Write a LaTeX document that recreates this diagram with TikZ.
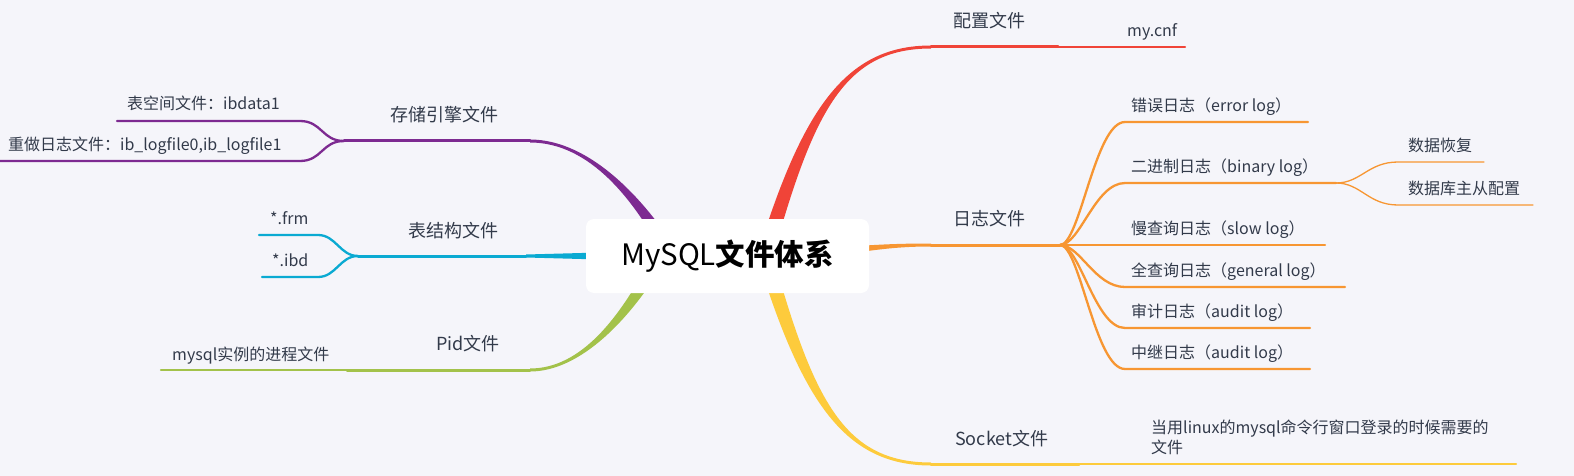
\documentclass[tikz,border=0pt]{standalone}
\usepackage{fontspec}
\setmainfont{Noto Sans CJK SC}
\usetikzlibrary{positioning}
\definecolor{bgc}{RGB}{245,245,250}
\definecolor{ink}{RGB}{50,58,74}
\definecolor{cred}{RGB}{240,68,56}
\definecolor{corange}{RGB}{247,150,50}
\definecolor{cyellow}{RGB}{253,203,60}
\definecolor{cgreen}{RGB}{163,194,74}
\definecolor{ccyan}{RGB}{10,170,210}
\definecolor{cpurple}{RGB}{125,42,145}

\begin{document}
\begin{tikzpicture}[line cap=round,line join=round,x=1pt,y=-1pt,
    trunk/.style={line width=3pt},
    twig/.style={line width=2.3pt},
    leaf/.style={inner sep=0pt,text=ink,font=\fontsize{16}{20}\selectfont,text height=12.5pt,text depth=3.5pt},
    topic/.style={inner sep=0pt,text=ink,font=\fontsize{18}{22}\selectfont,text height=14pt,text depth=4pt}]
	\fill[bgc] (0,0) rectangle (1574,476);
	\useasboundingbox (0,0) rectangle (1574,476);
	% tapered roots, they start under the central box
	\fill[cred] (757,256) .. controls (802,110) and (845,45.5) .. (931,45.5) -- (931,48.5) .. controls (845,48.5) and (814,110) .. (773,256) -- cycle;
	\fill[cyellow] (757,256) .. controls (802,402) and (845,465.5) .. (931,465.5) -- (931,462.5) .. controls (845,462.5) and (814,402) .. (773,256) -- cycle;
	\fill[corange] (800,250) .. controls (870,245) and (890,243.5) .. (931,243.5) -- (931,246.5) .. controls (890,246.5) and (870,251) .. (800,260) -- cycle;
	\fill[cpurple] (664,256) .. controls (634,200) and (590,142.5) .. (530,142.5) -- (530,139.5) .. controls (590,139.5) and (646,200) .. (680,256) -- cycle;
	\fill[cgreen] (652,256) .. controls (619,320) and (580,368.5) .. (530,368.5) -- (530,371.5) .. controls (580,371.5) and (631,320) .. (668,256) -- cycle;
	\fill[ccyan] (526,254.5) -- (600,252.5) -- (600,259.5) -- (526,257.5) -- cycle;
	% 配置文件
	\coordinate (cfg) at (931,47);
	\coordinate (cfg-j) at (1058,47);
	\coordinate (cnf-s) at (1121,47);
	\coordinate (cnf-e) at (1185,47);
	\draw[cred,trunk] (cfg) -- (cfg-j);
	\draw[cred,twig] (cfg-j) -- (cnf-e);
	\node[topic,above right=15pt and 22pt of cfg] (cfgtxt) {配置文件};
	\node[leaf,above right=7pt and 6pt of cnf-s] (cnf) {my.cnf};
	% 日志文件
	\coordinate (log) at (931,245);
	\coordinate (loghub) at (1060,245);
	\coordinate (err-s) at (1125,122);  \coordinate (err-e) at (1308,122);
	\coordinate (bin-s) at (1125,183);  \coordinate (bin-e) at (1336,183);
	\coordinate (slow-s) at (1125,245); \coordinate (slow-e) at (1325,245);
	\coordinate (gen-s) at (1125,287);  \coordinate (gen-e) at (1345,287);
	\coordinate (aud-s) at (1125,328);  \coordinate (aud-e) at (1310,328);
	\coordinate (rel-s) at (1125,369);  \coordinate (rel-e) at (1310,369);
	\draw[corange,trunk] (log) -- (loghub);
	\foreach \k in {err,bin,slow,gen,aud,rel}
		\draw[corange,twig] (loghub) .. controls +(20,0) and +(-30,0) .. (\k-s) -- (\k-e);
	\node[topic,above right=15pt and 22pt of log] (logtxt) {日志文件};
	\node[leaf,above right=7pt and 6pt of err-s] (errtxt) {错误日志（error log）};
	\node[leaf,above right=7pt and 6pt of bin-s] (bintxt) {二进制日志（binary log）};
	\node[leaf,above right=7pt and 6pt of slow-s] (slowtxt) {慢查询日志（slow log）};
	\node[leaf,above right=7pt and 6pt of gen-s] (gentxt) {全查询日志（general log）};
	\node[leaf,above right=7pt and 6pt of aud-s] (audtxt) {审计日志（audit log）};
	\node[leaf,above right=7pt and 6pt of rel-s] (reltxt) {中继日志（audit log）};
	% binlog children
	\coordinate (rec-s) at (1398,162); \coordinate (rec-e) at (1484,162);
	\coordinate (rep-s) at (1398,205); \coordinate (rep-e) at (1533,205);
	\draw[corange,line width=1.3pt] (bin-e) .. controls +(25,0) and +(-30,0) .. (rec-s) -- (rec-e);
	\draw[corange,line width=1.3pt] (bin-e) .. controls +(25,0) and +(-30,0) .. (rep-s) -- (rep-e);
	\node[leaf,above right=7pt and 10pt of rec-s] (rectxt) {数据恢复};
	\node[leaf,above right=7pt and 10pt of rep-s] (reptxt) {数据库主从配置};
	% Socket文件
	\coordinate (sock) at (931,464);
	\coordinate (sock-j) at (1079,464);
	\coordinate (sockleaf-e) at (1516,464);
	\draw[cyellow,trunk] (sock) -- (sock-j);
	\draw[cyellow,twig] (sock-j) -- (sockleaf-e);
	\node[topic,above right=14pt and 24pt of sock] (socktxt) {Socket文件};
	\node[leaf,text height={},text depth={},align=left,anchor=north west] (sockleaf) at (1151,420) {当用linux的mysql命令行窗口登录的时候需要的\\文件};
	% 存储引擎文件
	\coordinate (store) at (530,141);
	\coordinate (storehub) at (344,141);
	\coordinate (ibd1-s) at (300,121); \coordinate (ibd1-e) at (117,121);
	\coordinate (redo-s) at (300,161); \coordinate (redo-e) at (-2,161);
	\draw[cpurple,trunk] (store) -- (storehub);
	\draw[cpurple,twig] (storehub) .. controls +(-22,0) and +(22,0) .. (ibd1-s) -- (ibd1-e);
	\draw[cpurple,twig] (storehub) .. controls +(-22,0) and +(22,0) .. (redo-s) -- (redo-e);
	\node[topic,above left=15pt and 31pt of store] (storetxt) {存储引擎文件};
	\node[leaf,above right=8pt and 10pt of ibd1-e] (ibd1txt) {表空间文件：ibdata1};
	\node[leaf,above right=7pt and 10pt of redo-e] (redotxt) {重做日志文件：ib\_logfile0,ib\_logfile1};
	% 表结构文件
	\coordinate (frame) at (526,256);
	\coordinate (framehub) at (358,256);
	\coordinate (frm-s) at (318,235); \coordinate (frm-e) at (259,235);
	\coordinate (ibd-s) at (318,277); \coordinate (ibd-e) at (262,277);
	\draw[ccyan,trunk] (frame) -- (framehub);
	\draw[ccyan,twig] (framehub) .. controls +(-18,0) and +(18,0) .. (frm-s) -- (frm-e);
	\draw[ccyan,twig] (framehub) .. controls +(-18,0) and +(18,0) .. (ibd-s) -- (ibd-e);
	\node[topic,above left=14pt and 27pt of frame] (frametxt) {表结构文件};
	\node[leaf,above right=7pt and 11pt of frm-e] (frmtxt) {*.frm};
	\node[leaf,above right=7pt and 10pt of ibd-e] (ibdtxt) {*.ibd};
	% Pid文件
	\coordinate (pid) at (530,370);
	\coordinate (pid-j) at (347,370);
	\coordinate (pidleaf-e) at (161,370);
	\draw[cgreen,trunk] (pid) -- (pid-j);
	\draw[cgreen,twig] (pid-j) -- (pidleaf-e);
	\node[topic,above left=15pt and 30pt of pid] (pidtxt) {Pid文件};
	\node[leaf,above right=6pt and 11pt of pidleaf-e] (pidleaf) {mysql实例的进程文件};
	% central topic
	\node[fill=white,rounded corners=8pt,minimum width=283pt,minimum height=74pt,inner sep=0pt,font=\fontsize{29.5}{33}\selectfont] (root) at (727.5,256) {MySQL\textbf{文件体系}};
\end{tikzpicture}
\end{document}
